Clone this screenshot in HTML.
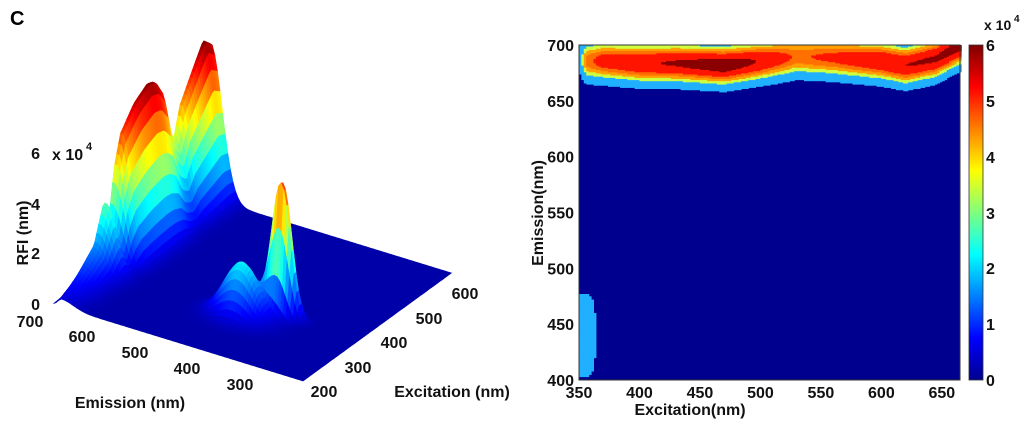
<!DOCTYPE html>
<html><head><meta charset="utf-8"><style>
body{margin:0;background:#fff;}
svg{display:block;font-family:"Liberation Sans",Arial,sans-serif;font-weight:bold;}
</style></head><body>
<svg id="fig" width="1024" height="422" viewBox="0 0 1024 422">
<text x="10" y="25" font-size="20">C</text>
<g id="surf"></g>
<g id="left-axes" font-size="16" fill="#111">
 <text x="52" y="160">x 10</text>
 <text x="86" y="150" font-size="11">4</text>
 <text x="40" y="159" text-anchor="end">6</text>
 <text x="40" y="210" text-anchor="end">4</text>
 <text x="40" y="259" text-anchor="end">2</text>
 <text x="40" y="310" text-anchor="end">0</text>
 <text transform="translate(28,233) rotate(-90)" text-anchor="middle">RFI (nm)</text>
 <text x="30" y="327" text-anchor="middle">700</text>
 <text x="82" y="342" text-anchor="middle">600</text>
 <text x="135" y="358" text-anchor="middle">500</text>
 <text x="187" y="374" text-anchor="middle">400</text>
 <text x="240" y="390" text-anchor="middle">300</text>
 <text x="130" y="408" text-anchor="middle">Emission (nm)</text>
 <text x="324" y="397" text-anchor="middle">200</text>
 <text x="358" y="373" text-anchor="middle">300</text>
 <text x="394" y="348" text-anchor="middle">400</text>
 <text x="429" y="324" text-anchor="middle">500</text>
 <text x="465" y="299" text-anchor="middle">600</text>
 <text x="452" y="397" text-anchor="middle">Excitation (nm)</text>
</g>
<rect x="579" y="45" width="381" height="335" fill="#00008f"/>
<g id="cont"></g>
<rect x="579" y="45" width="381" height="335" fill="none" stroke="#333" stroke-width="1"/>
<g id="raxes" font-size="16" fill="#111"></g>
<defs><linearGradient id="jetg" x1="0" y1="1" x2="0" y2="0">
<stop offset="0" stop-color="#00008f"/><stop offset="0.125" stop-color="#0000ff"/><stop offset="0.375" stop-color="#00ffff"/><stop offset="0.625" stop-color="#ffff00"/><stop offset="0.875" stop-color="#ff0000"/><stop offset="1" stop-color="#800000"/></linearGradient></defs>
<rect x="969" y="45" width="14" height="335" fill="url(#jetg)" stroke="#333" stroke-width="0.8"/>
<g font-size="16" fill="#111">
<text x="986" y="51">6</text>
<text x="986" y="107">5</text>
<text x="986" y="163">4</text>
<text x="986" y="219">3</text>
<text x="986" y="274">2</text>
<text x="986" y="330">1</text>
<text x="986" y="386">0</text>
<text x="984" y="30" font-size="14">x 10</text>
<text x="1014" y="22" font-size="10">4</text>
</g>
</svg>
<script>
// 3D surface: main emission ridge profile along excitation (heights in RFI)
const ridgeEx = [200,250,300,330,345,360,380,420,460,480,500,520,540,560,600,630,650];
const ridgeH  = [3000,8000,15000,30000,20000,40000,52000,60000,64000,63000,57000,40000,34000,46000,57000,65000,62000];
const ridgeEm = 684;
// 3D secondary peaks
const peakEx = [365, 330];
const peakEm = [365, 420];
const peakH  = [55000, 22000];
// Contour ridge profile along excitation
const cEx = [350,356,370,400,430,470,500,530,560,600,620,645,665];
const cH  = [9000,38000,48000,54000,57500,64000,55000,40000,45000,54000,56000,58000,62000];
const cEm = [688,686,686,684,684,682,686,690,689,686,682,688,700];
// Contour low patch
const patchEx = [350];
const patchEm = [440];
const patchH  = [13000];
// Tick labels for contour axes
const xTicks = [350,400,450,500,550,600,650];
const yTicks = [400,450,500,550,600,650,700];

function interp(xs, ys, x){
  if(x<=xs[0]) return ys[0]; if(x>=xs[xs.length-1]) return ys[ys.length-1];
  for(let i=1;i<xs.length;i++) if(x<=xs[i]){const t=(x-xs[i-1])/(xs[i]-xs[i-1]);return ys[i-1]+t*(ys[i]-ys[i-1]);}
}
function val(ex, em){
  const d=em-ridgeEm, s=d<0?32:10;
  let v = interp(ridgeEx, ridgeH, ex)*Math.exp(-Math.pow(d/s,2));
  for(let i=0;i<peakEx.length;i++){
    const sx=i==0?13:30, sy=i==0?25:45;
    v += peakH[i]*Math.exp(-Math.pow((ex-peakEx[i])/sx,2)-Math.pow((em-peakEm[i])/sy,2));
  }
  return v;
}
function cval(ex, em){
  const d=em-interp(cEx,cEm,ex);
  let v = interp(cEx,cH,ex)*Math.exp(-Math.pow(d/16,2));
  for(let i=0;i<patchEx.length;i++){
    v += patchH[i]*Math.exp(-Math.pow((ex-patchEx[i])/15,4)-Math.pow((em-patchEm[i])/42,4));
  }
  return v;
}
function jet(t){
  t=Math.max(0,Math.min(1,t));
  const r=Math.min(1,Math.max(0,1.5-Math.abs(4*t-3)));
  const g=Math.min(1,Math.max(0,1.5-Math.abs(4*t-2)));
  const b=Math.min(1,Math.max(0,1.5-Math.abs(4*t-1)));
  return `rgb(${Math.round(r*255)},${Math.round(g*255)},${Math.round(b*255)})`;
}
const NS="http://www.w3.org/2000/svg";
function px(ex,em,z){return 303+(ex-200)*0.33-(em-220)*0.52;}
function py(ex,em,z){return 381-(ex-200)*0.24-(em-220)*0.16-z*25.3/1e4;}
const surf=document.getElementById('surf');
const cells=[];
const exS=6, emS=5;
for(let ex=200;ex<650;ex+=exS){
  for(let em=220;em<700;em+=emS){
    cells.push([ex,em,(ex-200)/450+(em-220)/480]);
  }
}
cells.sort((a,b)=>b[2]-a[2]);
let html='';
for(const c of cells){
  const ex=c[0], em=c[1], e2=Math.min(650,ex+exS), m2=Math.min(700,em+emS);
  const z1=val(ex,em),z2=val(e2,em),z3=val(e2,m2),z4=val(ex,m2);
  const zm=(z1+z2+z3+z4)/4;
  const col=jet(0.04+0.96*zm/64000);
  const pts=[[ex,em,z1],[e2,em,z2],[e2,m2,z3],[ex,m2,z4]].map(p=>px(...p).toFixed(1)+','+py(...p).toFixed(1)).join(' ');
  html+=`<polygon points="${pts}" fill="${col}" stroke="${col}" stroke-width="0.6"/>`;
}
surf.innerHTML=html;
surf.querySelectorAll('polygon').forEach(p=>{
  
  
});
const X0=579, X1=960, Y0=380, Y1=45;
const xs=ex=>X0+(ex-350)*(X1-X0)/315;
const ys=em=>Y0-(em-400)*(Y0-Y1)/300;
const cont=document.getElementById('cont');
let ch='';
const cdx=2, cdy=1;
const levelColors=['#00008f','#20b0ff','#20b0ff','#d0ff40','#ffa000','#ff7000','#ff1500','#ff1500','#8b0000'];
for(let ex=350;ex<665;ex+=cdx){
  for(let em=400;em<700;em+=cdy){
    const v=cval(ex+cdx/2,em+cdy/2);
    let lvl=Math.floor(v/7000);
    if(lvl<1) continue;
    if(lvl>8) lvl=8;
    const col=levelColors[lvl];
    ch+=`<rect x="${xs(ex).toFixed(1)}" y="${ys(em+cdy).toFixed(1)}" width="${(xs(ex+cdx)-xs(ex)+0.5).toFixed(1)}" height="${(ys(em)-ys(em+cdy)+0.5).toFixed(1)}" fill="${col}"/>`;
  }
}
cont.innerHTML=ch;
cont.querySelectorAll('rect').forEach(r=>{
  
  
});
const ra=document.getElementById('raxes');
for(const t of xTicks){
  const el=document.createElementNS(NS,'text');
  el.setAttribute('x',xs(t));el.setAttribute('y',398);el.setAttribute('text-anchor','middle');el.textContent=t;
  
  
  ra.appendChild(el);
}
for(const t of yTicks){
  const el=document.createElementNS(NS,'text');
  el.setAttribute('x',574);el.setAttribute('y',ys(t)+6);el.setAttribute('text-anchor','end');el.textContent=t;
  
  
  ra.appendChild(el);
}
const xt=document.createElementNS(NS,'text');
xt.setAttribute('x',690);xt.setAttribute('y',415);xt.setAttribute('text-anchor','middle');xt.textContent='Excitation(nm)';


ra.appendChild(xt);
const yt=document.createElementNS(NS,'text');
yt.setAttribute('transform','translate(543,213) rotate(-90)');yt.setAttribute('text-anchor','middle');yt.textContent='Emission(nm)';


ra.appendChild(yt);
</script>
</body></html>
